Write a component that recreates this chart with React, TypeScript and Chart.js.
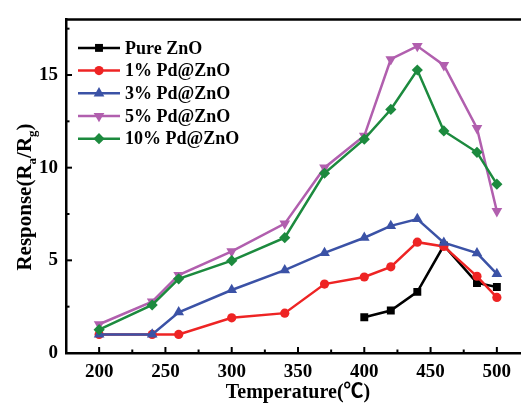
import React, { useEffect, useRef } from 'react';
import { Chart, registerables } from 'chart.js';
Chart.register(...registerables);

const FONT = "'Liberation Serif', 'Times New Roman', 'Noto Sans CJK SC', serif";

const temps = [200, 240, 260, 300, 340, 370, 400, 420, 440, 460, 485, 500];
const pureTemps = [400, 420, 440, 460, 485, 500];
const pureZnO = [1.93, 2.29, 3.3, 5.8, 3.78, 3.56];
const pd1 = [1.0, 1.0, 1.0, 1.9, 2.15, 3.72, 4.1, 4.65, 5.98, 5.75, 4.14, 3.0];
const pd3 = [1.0, 1.0, 2.2, 3.4, 4.47, 5.4, 6.22, 6.86, 7.23, 5.95, 5.39, 4.27];
const pd5 = [1.55, 2.77, 4.2, 5.48, 6.98, 10.0, 11.72, 15.85, 16.56, 15.53, 12.13, 7.65];
const pd10 = [1.26, 2.59, 4.0, 4.98, 6.22, 9.7, 11.54, 13.14, 15.27, 11.98, 10.83, 9.11];

const seriesNames = ['Pure ZnO', '1% Pd@ZnO', '3% Pd@ZnO', '5% Pd@ZnO', '10% Pd@ZnO'];
const seriesColors = ['#000000', '#ee2424', '#3b52a6', '#b15fae', '#1c8a3e'];
const seriesPoints = ['rect', 'circle', 'triangle', 'triangle', 'rectRot'];
const seriesRotation = [0, 0, 0, 180, 0];
const seriesRadius = [5.6, 4.6, 6.2, 6.2, 5.6];

const xTickValues = [200, 250, 300, 350, 400, 450, 500];
const xMinorValues = [175, 225, 275, 325, 375, 425, 475, 525];
const yTickValues = [0, 5, 10, 15];
const yMinorValues = [2.5, 7.5, 12.5, 17.5];

const xTitle = 'Temperature(℃)';
const yTitleParts: [string, boolean][] = [['Response(R', false], ['a', true], ['/R', false], ['g', true], [')', false]];

const decorPlugin = {
  id: 'decor',
  afterDraw(chart: any) {
    const { ctx, chartArea } = chart;
    const xs = chart.scales.x;
    const ys = chart.scales.y;
    ctx.save();
    ctx.strokeStyle = '#000';
    ctx.lineCap = 'butt';
    // top border
    ctx.lineWidth = 2.5;
    ctx.beginPath();
    ctx.moveTo(chartArea.left, chartArea.top);
    ctx.lineTo(chartArea.right, chartArea.top);
    ctx.stroke();
    // inward ticks
    ctx.lineWidth = 2;
    const b = chartArea.bottom;
    const l = chartArea.left;
    xTickValues.forEach((v) => {
      const px = xs.getPixelForValue(v);
      ctx.beginPath(); ctx.moveTo(px, b); ctx.lineTo(px, b - 6); ctx.stroke();
    });
    xMinorValues.forEach((v) => {
      const px = xs.getPixelForValue(v);
      ctx.beginPath(); ctx.moveTo(px, b); ctx.lineTo(px, b - 3.5); ctx.stroke();
    });
    yTickValues.forEach((v) => {
      const py = ys.getPixelForValue(v);
      ctx.beginPath(); ctx.moveTo(l, py); ctx.lineTo(l + 6, py); ctx.stroke();
    });
    yMinorValues.forEach((v) => {
      const py = ys.getPixelForValue(v);
      ctx.beginPath(); ctx.moveTo(l, py); ctx.lineTo(l + 3.5, py); ctx.stroke();
    });

    // legend
    const rowTop = chartArea.top + 28.5;
    const rowGap = 22.7;
    seriesNames.forEach((name, i) => {
      const y = rowTop + i * rowGap;
      const x0 = l + 12;
      const x1 = l + 54;
      ctx.strokeStyle = seriesColors[i];
      ctx.lineWidth = 2.5;
      ctx.beginPath(); ctx.moveTo(x0, y); ctx.lineTo(x1, y); ctx.stroke();
      ctx.fillStyle = seriesColors[i];
      ctx.strokeStyle = seriesColors[i];
      ctx.lineWidth = 1;
      (Chart as any).helpers?.drawPoint;
      drawMarker(ctx, seriesPoints[i], seriesRadius[i], seriesRotation[i], (x0 + x1) / 2, y);
      ctx.fillStyle = '#000';
      ctx.font = `bold 18px ${FONT}`;
      ctx.textAlign = 'left';
      ctx.textBaseline = 'middle';
      ctx.fillText(name, l + 59, y + 1);
    });

    // y title with subscripts
    ctx.save();
    ctx.translate(26, 197);
    ctx.rotate(-Math.PI / 2);
    ctx.fillStyle = '#000';
    ctx.textBaseline = 'middle';
    ctx.textAlign = 'left';
    const big = `bold 21px ${FONT}`;
    const small = `bold 13px ${FONT}`;
    let total = 0;
    yTitleParts.forEach(([t, sub]) => {
      ctx.font = sub ? small : big;
      total += ctx.measureText(t).width;
    });
    let cx = -total / 2;
    yTitleParts.forEach(([t, sub]) => {
      ctx.font = sub ? small : big;
      ctx.fillText(t, cx, sub ? 7 : 0);
      cx += ctx.measureText(t).width;
    });
    ctx.restore();
    ctx.restore();
  },
};

function drawMarker(ctx: CanvasRenderingContext2D, style: string, radius: number, rotation: number, x: number, y: number) {
  const rad = (rotation * Math.PI) / 180;
  ctx.beginPath();
  if (style === 'circle') {
    ctx.arc(x, y, radius, 0, Math.PI * 2);
  } else if (style === 'rect') {
    const s = Math.SQRT1_2 * radius;
    ctx.rect(x - s, y - s, 2 * s, 2 * s);
  } else if (style === 'rectRot') {
    ctx.moveTo(x, y - radius);
    ctx.lineTo(x + radius, y);
    ctx.lineTo(x, y + radius);
    ctx.lineTo(x - radius, y);
    ctx.closePath();
  } else if (style === 'triangle') {
    let a = rad;
    ctx.moveTo(x + Math.sin(a) * radius, y - Math.cos(a) * radius);
    a += (2 * Math.PI) / 3;
    ctx.lineTo(x + Math.sin(a) * radius, y - Math.cos(a) * radius);
    a += (2 * Math.PI) / 3;
    ctx.lineTo(x + Math.sin(a) * radius, y - Math.cos(a) * radius);
    ctx.closePath();
  }
  ctx.fill();
}

export default function App() {
  const ref = useRef<HTMLCanvasElement>(null);
  useEffect(() => {
    if (!ref.current) return;
    const allSeries = [
      pureTemps.map((t, i) => ({ x: t, y: pureZnO[i] })),
      temps.map((t, i) => ({ x: t, y: pd1[i] })),
      temps.map((t, i) => ({ x: t, y: pd3[i] })),
      temps.map((t, i) => ({ x: t, y: pd5[i] })),
      temps.map((t, i) => ({ x: t, y: pd10[i] })),
    ];
    const datasets = allSeries.map((data, i) => ({
      label: seriesNames[i],
      data,
      borderColor: seriesColors[i],
      backgroundColor: seriesColors[i],
      pointBackgroundColor: seriesColors[i],
      pointBorderColor: seriesColors[i],
      pointBorderWidth: 0,
      pointStyle: seriesPoints[i] as any,
      pointRotation: seriesRotation[i],
      pointRadius: seriesRadius[i],
      borderWidth: 2.5,
      tension: 0,
      order: 4 - i,
    }));
    const chart = new Chart(ref.current, {
      type: 'line',
      data: { datasets },
      plugins: [decorPlugin],
      options: {
        animation: false,
        responsive: false,
        devicePixelRatio: 1,
        layout: { padding: { top: 14, right: 10, left: 0, bottom: 0 } },
        plugins: { legend: { display: false }, tooltip: { enabled: false } },
        scales: {
          x: {
            type: 'linear',
            min: 175,
            max: 525,
            afterFit: (s: any) => { s.height = 52; },
            afterBuildTicks: (s: any) => { s.ticks = xTickValues.map((v) => ({ value: v })); },
            grid: { display: false, drawTicks: false },
            border: { display: true, color: '#000', width: 2.5 },
            ticks: { color: '#000', padding: 8, font: { family: FONT, size: 19, weight: 'bold' } },
            title: {
              display: true,
              text: xTitle,
              color: '#000',
              padding: { top: 0, bottom: 0 },
              font: { family: FONT, size: 20, weight: 'bold' },
            },
          },
          y: {
            type: 'linear',
            min: 0,
            max: 18,
            afterFit: (s: any) => { s.width = 66; },
            afterBuildTicks: (s: any) => { s.ticks = yTickValues.map((v) => ({ value: v })); },
            grid: { display: false, drawTicks: false },
            border: { display: true, color: '#000', width: 2.5 },
            ticks: { color: '#000', padding: 8, font: { family: FONT, size: 19, weight: 'bold' } },
          },
        },
      },
    });
    return () => chart.destroy();
  }, []);
  return (
    <div style={{ position: 'fixed', left: 0, top: 0, width: 521, height: 405, overflow: 'hidden', background: '#fff' }}>
      <canvas ref={ref} width={540} height={405} style={{ display: 'block' }} />
    </div>
  );
}
